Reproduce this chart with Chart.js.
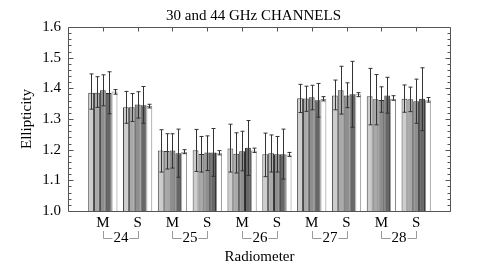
<!DOCTYPE html>
<html>
<head>
<meta charset="utf-8">
<script src="https://cdn.jsdelivr.net/npm/chart.js@4/dist/chart.umd.min.js"></script>
<style>
  body { margin: 0; background: #fff; }
  #wrap { width: 490px; height: 269px; }
</style>
</head>
<body>
<div id="wrap"><canvas id="chart" width="490" height="269"></canvas></div>
<script>
// categories (M / S per radiometer)
const categories = ['M', 'S', 'M', 'S', 'M', 'S', 'M', 'S', 'M', 'S'];
const radiometers = ['24', '25', '26', '27', '28'];
const yTicks = [1.0, 1.1, 1.2, 1.3, 1.4, 1.5, 1.6];
const titulo = '30 and 44 GHz CHANNELS';

// bar values, 5 bars per category
const serie1 = [1.386, 1.338, 1.197, 1.198, 1.204, 1.185, 1.368, 1.377, 1.374, 1.366];
const serie2 = [1.386, 1.338, 1.196, 1.186, 1.187, 1.188, 1.367, 1.394, 1.364, 1.364];
const serie3 = [1.394, 1.347, 1.197, 1.191, 1.195, 1.185, 1.371, 1.377, 1.362, 1.358];
const serie4 = [1.385, 1.345, 1.188, 1.191, 1.206, 1.185, 1.361, 1.381, 1.377, 1.366];
const serie5 = [1.390, 1.342, 1.193, 1.190, 1.197, 1.184, 1.365, 1.381, 1.366, 1.361];

// error bars (upper / lower)
const alto1 = [1.447, 1.390, 1.265, 1.266, 1.283, 1.254, 1.413, 1.427, 1.465, 1.411];
const bajo1 = [1.332, 1.286, 1.127, 1.129, 1.127, 1.112, 1.321, 1.330, 1.281, 1.322];
const alto2 = [1.438, 1.383, 1.252, 1.243, 1.255, 1.248, 1.407, 1.472, 1.445, 1.404];
const bajo2 = [1.338, 1.292, 1.137, 1.127, 1.124, 1.127, 1.325, 1.316, 1.281, 1.324];
const alto3 = [1.444, 1.389, 1.252, 1.245, 1.260, 1.243, 1.410, 1.418, 1.405, 1.430];
const bajo3 = [1.343, 1.303, 1.140, 1.132, 1.131, 1.127, 1.330, 1.337, 1.322, 1.286];
const alto4 = [1.454, 1.406, 1.267, 1.269, 1.295, 1.267, 1.416, 1.488, 1.436, 1.467];
const bajo4 = [1.317, 1.286, 1.110, 1.113, 1.116, 1.104, 1.306, 1.273, 1.319, 1.262];
const alto5 = [1.396, 1.348, 1.200, 1.197, 1.205, 1.191, 1.373, 1.386, 1.376, 1.370];
const bajo5 = [1.381, 1.336, 1.187, 1.183, 1.191, 1.178, 1.359, 1.373, 1.361, 1.355];

const series = [serie1, serie2, serie3, serie4, serie5];
const altos = [alto1, alto2, alto3, alto4, alto5];
const bajos = [bajo1, bajo2, bajo3, bajo4, bajo5];
const rellenos = ['#cdcdcd', '#a9a9a9', '#8e8e8e', '#676767', '#ffffff'];
const bordes = ['#444', '#3a3a3a', '#333', '#2a2a2a', '#888'];

// empty slot at each end so the axis runs one category past the bars
const pad = arr => [null, ...arr, null];
const labels = ['', ...categories, ''];

const fuente = 'Liberation Serif, Times New Roman, serif';

const marco = {
  id: 'marco',
  afterDatasetsDraw(chart) {
    const { ctx, scales: { x, y } } = chart;
    ctx.save();
    ctx.lineWidth = 1;
    ctx.strokeStyle = '#333';
    series.forEach((s, d) => {
      const meta = chart.getDatasetMeta(d);
      s.forEach((v, i) => {
        const el = meta.data[i + 1];
        if (!el) return;
        const px = Math.round(el.x) + 0.5;
        const yh = y.getPixelForValue(altos[d][i]);
        const yl = y.getPixelForValue(bajos[d][i]);
        ctx.beginPath();
        ctx.moveTo(px, yh); ctx.lineTo(px, yl);
        ctx.moveTo(px - 2, yh); ctx.lineTo(px + 2, yh);
        ctx.moveTo(px - 2, yl); ctx.lineTo(px + 2, yl);
        ctx.stroke();
      });
    });
    ctx.restore();
  },
  afterDraw(chart) {
    const { ctx, chartArea: a, scales: { x, y } } = chart;
    ctx.save();
    // title centred over the plot box
    ctx.fillStyle = '#000';
    ctx.font = '15px ' + fuente;
    ctx.textAlign = 'center';
    ctx.textBaseline = 'middle';
    ctx.fillText(titulo, (a.left + a.right) / 2 - 6, 16);

    ctx.strokeStyle = '#555';
    ctx.lineWidth = 1;
    const L = a.left + 0.5, R = a.right - 0.5, T = a.top + 0.5, B = a.bottom + 0.5;
    ctx.beginPath();
    ctx.moveTo(L, T); ctx.lineTo(R, T); ctx.lineTo(R, B); ctx.lineTo(L, B); ctx.closePath();
    // y ticks, major every 0.1, minor every 0.02, both sides inward
    for (let i = 0; i <= 30; i++) {
      const p = Math.round(y.getPixelForValue(1 + i * 0.02)) + 0.5;
      const len = i % 5 === 0 ? 5 : 3;
      ctx.moveTo(L, p); ctx.lineTo(L + len, p);
      ctx.moveTo(R, p); ctx.lineTo(R - len, p);
    }
    // top ticks at categories
    categories.forEach((c, i) => {
      const p = Math.round(x.getPixelForValue(i + 1)) + 0.5;
      ctx.moveTo(p, T); ctx.lineTo(p, T + 4);
    });
    ctx.stroke();

    // radiometer group brackets
    radiometers.forEach((r, g) => {
      const xm = Math.round(x.getPixelForValue(1 + 2 * g)) + 0.5;
      const xs = Math.round(x.getPixelForValue(2 + 2 * g)) + 0.5;
      const cx = (xm + xs) / 2;
      const tw = ctx.measureText(r).width;
      const yl = 238.5;
      ctx.strokeStyle = '#999';
      ctx.beginPath();
      ctx.moveTo(xm, 231); ctx.lineTo(xm, yl); ctx.lineTo(cx - tw / 2 - 1, yl);
      ctx.moveTo(cx + tw / 2 + 1, yl); ctx.lineTo(xs, yl); ctx.lineTo(xs, 231);
      ctx.stroke();
      ctx.fillStyle = '#000';
      ctx.fillText(r, cx, 238);
    });
    ctx.restore();
  }
};

new Chart(document.getElementById('chart'), {
  type: 'bar',
  data: {
    labels: labels,
    datasets: series.map((s, d) => ({
      data: pad(s),
      backgroundColor: rellenos[d],
      borderColor: bordes[d],
      borderWidth: 1,
      categoryPercentage: 0.84,
      barPercentage: 1.0
    }))
  },
  options: {
    responsive: false,
    animation: false,
    layout: { padding: { left: 0, right: 39, top: 27, bottom: 0 } },
    plugins: {
      legend: { display: false },
      tooltip: { enabled: false },
      title: { display: false }
    },
    scales: {
      x: {
        offset: false,
        grid: { display: false, drawTicks: false },
        border: { display: false },
        ticks: { color: '#000', font: { family: fuente, size: 15 }, padding: 3, maxRotation: 0, autoSkip: false },
        title: { display: true, text: 'Radiometer', color: '#000', font: { family: fuente, size: 15 }, padding: { top: 0, bottom: 3 } },
        afterFit: s => { s.height = 58; }
      },
      y: {
        min: 1.0,
        max: 1.6,
        grid: { display: false, drawTicks: false },
        border: { display: false },
        afterBuildTicks: s => { s.ticks = yTicks.map(v => ({ value: v })); },
        ticks: { color: '#000', font: { family: fuente, size: 15 }, padding: 7, callback: v => Number(v).toFixed(1) },
        title: { display: true, text: 'Ellipticity', color: '#000', font: { family: fuente, size: 15 }, padding: { top: 18, bottom: 0 } },
        afterFit: s => { s.width = 68; }
      }
    }
  },
  plugins: [marco]
});
</script>
</body>
</html>
